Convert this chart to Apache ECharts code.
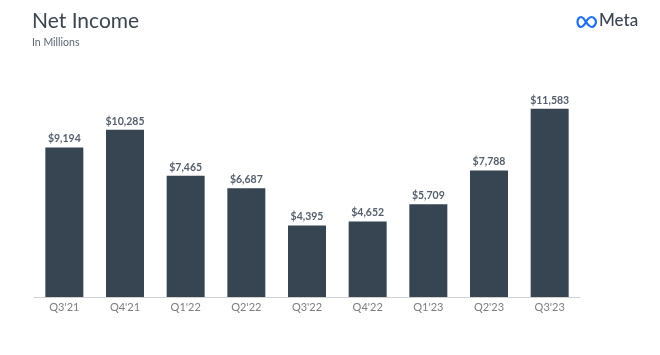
<!DOCTYPE html>
<html><head><meta charset="utf-8">
<script src="https://cdn.jsdelivr.net/npm/echarts@6/dist/echarts.min.js"></script>
<style>html,body{margin:0;padding:0;background:#fff}#c{width:660px;height:355px}</style>
</head><body><div id="c"></div>
<script>
const categories = ["Q3'21","Q4'21","Q1'22","Q2'22","Q3'22","Q4'22","Q1'23","Q2'23","Q3'23"];
const netIncome = [9194,10285,7465,6687,4395,4652,5709,7788,11583];
const titleText = "Net Income";
const subtitleText = "In Millions";

const chart = echarts.init(document.getElementById('c'));
chart.setOption({
  animation:false,
  backgroundColor:'#fff',
  title:{text:titleText,subtext:subtitleText,left:27,top:6,itemGap:5,
    textStyle:{fontFamily:'Lato',fontSize:21,fontWeight:'normal',color:'#3b4550'},
    subtextStyle:{fontFamily:'Lato',fontSize:10.5,color:'#5a6470'}},
  grid:{left:34,right:80,top:102,bottom:58},
  xAxis:{type:'category',data:categories,
    axisLine:{lineStyle:{color:'#d0d0d0',width:1}},axisTick:{show:false},
    axisLabel:{color:'#7d7d7d',fontFamily:'Lato',fontSize:11,margin:5}},
  yAxis:{type:'value',min:0,max:12000,show:false,splitLine:{show:false}},
  series:[{type:'bar',data:netIncome,barWidth:38,
    itemStyle:{color:'#374553'},
    label:{show:true,position:'top',distance:3,color:'#555f6b',fontFamily:'Lato',fontWeight:'bold',fontSize:10.5,
      formatter:p=>'$'+p.value.toLocaleString('en-US')}}],
  graphic:[
    {type:'polyline',x:577,y:16,shape:{smooth:0.4,points:[[9,6],[11.5,2.5],[14.5,1],[17.5,2.5],[19,6],[17.5,9.5],[15,11],[12,9.5],[9,6],[6.5,2.5],[4,1],[1.5,2.5],[0.5,6],[1.5,9.5],[4,11],[6.5,9.5],[9,6]]},
      style:{fill:null,stroke:'#1d6ef0',lineWidth:2.2}},
    {type:'text',left:599,top:12,style:{text:'Meta',font:'500 17px Lato',fill:'#3b4550'}}
  ]
});
</script></body></html>
